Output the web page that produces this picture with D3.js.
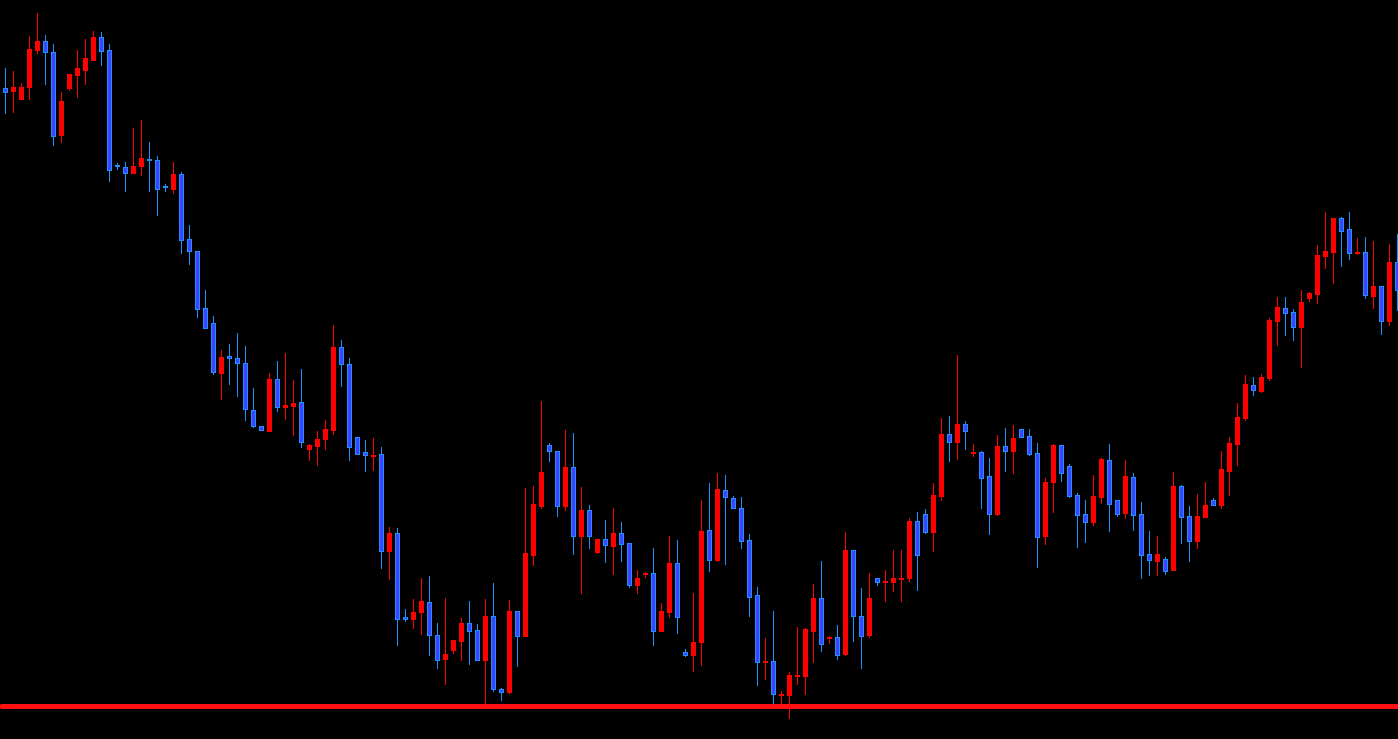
<!DOCTYPE html>
<html>
<head>
<meta charset="utf-8">
<script src="https://cdn.jsdelivr.net/npm/d3@7"></script>
<style>
html,body{margin:0;padding:0;background:#000;overflow:hidden;}
svg{display:block;}
</style>
</head>
<body>
<div id="chart"></div>
<script>
const openV  = [912,909,901,913,950,959,948,865,912,925,930,940,963,950,835,833,827,834,841,840,814,811,826,761,749,692,677,627,644,642,637,590,574,569,621,593,594,598,551,554,561,570,653,636,563,548,544,546,449,467,383,381,388,398,365,341,350,359,377,370,340,384,311,308,389,364,445,494,555,549,494,533,464,490,448,461,454,467,457,415,426,427,369,388,437,348,345,358,470,440,510,502,492,460,405,338,339,305,305,324,324,369,402,362,363,346,450,384,365,422,418,418,421,422,479,486,468,504,566,558,576,547,548,524,486,554,549,571,564,547,464,518,555,534,505,486,478,503,540,500,487,523,486,446,439,441,430,514,484,459,483,500,495,529,556,582,615,609,622,679,692,688,673,702,706,744,748,782,771,747,748,704,714,679,738];
const highV  = [932,929,917,964,987,965,956,908,926,950,961,969,968,956,837,838,872,880,858,844,816,838,828,775,749,710,684,650,656,667,654,612,574,627,639,647,620,631,556,569,580,675,660,642,563,560,562,553,473,472,391,401,422,424,377,402,360,382,399,376,401,417,312,400,389,512,514,599,557,549,570,567,513,495,461,480,492,478,457,430,428,452,397,464,460,351,407,500,517,527,525,504,503,466,413,362,389,309,328,373,372,416,439,364,375,468,450,412,427,422,430,450,450,482,488,491,517,582,584,645,579,556,549,542,565,572,575,571,571,557,522,556,555,536,507,500,525,542,556,500,540,527,498,469,464,443,528,515,494,506,518,502,549,563,597,625,623,626,682,703,703,691,710,708,755,788,782,783,788,762,763,759,714,756,766];
const lowV   = [887,888,901,901,947,916,855,858,910,903,916,940,935,819,831,809,827,825,809,785,809,807,747,736,683,672,626,601,616,604,580,573,570,569,589,581,565,553,540,535,551,566,614,540,546,529,530,432,421,355,379,372,366,345,332,316,347,340,336,340,297,309,300,307,334,364,435,492,539,484,490,446,407,452,447,438,426,439,413,407,423,355,369,383,367,344,329,335,429,439,436,492,452,384,315,321,296,297,282,316,306,338,349,357,341,345,359,332,363,415,399,409,399,419,410,467,449,500,539,541,551,544,492,466,485,529,527,563,545,433,456,488,519,503,453,458,475,497,469,484,482,470,422,425,425,426,430,457,439,452,483,495,492,505,535,580,605,608,620,655,665,660,633,699,697,732,717,734,741,746,702,692,666,675,690];
const closeV = [908,913,913,951,959,948,864,899,926,932,942,963,949,830,834,827,834,842,840,811,813,826,760,749,691,672,628,643,642,637,591,574,570,621,593,595,597,558,555,561,571,653,636,553,546,545,545,449,467,381,381,388,399,365,340,346,360,377,369,340,384,311,308,389,364,447,496,528,549,494,533,464,490,464,461,455,467,456,415,422,427,369,389,437,383,345,358,469,440,511,503,492,459,403,338,339,306,306,325,325,371,402,356,363,345,450,384,364,402,418,419,422,422,479,445,468,505,566,558,576,569,548,522,486,554,549,562,563,546,463,518,555,527,504,485,478,504,541,496,486,524,485,445,440,446,429,514,483,459,484,495,495,531,557,583,616,610,623,680,693,687,673,698,707,745,749,782,769,747,748,705,714,679,738,710];
const supportLevel = 294;

const W = 1398, H = 739;
const bullColor = "#ff0000";
const bearFill = "#3c44ff";
const bearStroke = "#1e90ff";

const data = openV.map((o, i) => ({i, open:o, high:highV[i], low:lowV[i], close:closeV[i]}));

const x = d3.scaleLinear().domain([0, data.length - 1]).range([5.5, 5.5 + 8 * (data.length - 1)]);
const y = d3.scaleLinear().domain([261, 1000]).range([H, 0]);

const svg = d3.select("#chart").append("svg").attr("width", W).attr("height", H);
svg.append("rect").attr("width", W).attr("height", H).attr("fill", "#000");

const g = svg.append("g").attr("shape-rendering", "crispEdges");

const c = g.selectAll("g.candle").data(data).enter().append("g").attr("class", "candle");

c.append("line")
  .attr("x1", d => x(d.i)).attr("x2", d => x(d.i))
  .attr("y1", d => Math.round(y(d.high)))
  .attr("y2", d => Math.round(y(d.low)) + 1)
  .attr("stroke", d => d.close >= d.open ? bullColor : bearStroke)
  .attr("stroke-width", 1);

c.append("rect")
  .attr("x", d => x(d.i) - 2)
  .attr("width", 4)
  .attr("y", d => Math.round(y(Math.max(d.open, d.close))) + 0.5)
  .attr("height", d => Math.max(0, Math.round(y(Math.min(d.open, d.close))) - Math.round(y(Math.max(d.open, d.close)))))
  .attr("fill", d => d.close >= d.open ? bullColor : bearFill)
  .attr("stroke", d => d.close >= d.open ? bullColor : bearStroke)
  .attr("stroke-width", 1);

svg.append("line")
  .attr("x1", 2).attr("x2", W)
  .attr("y1", y(supportLevel) + 0.5).attr("y2", y(supportLevel) + 0.5)
  .attr("stroke", "#ff1010")
  .attr("stroke-width", 5)
  .attr("stroke-linecap", "round");
</script>
</body>
</html>
